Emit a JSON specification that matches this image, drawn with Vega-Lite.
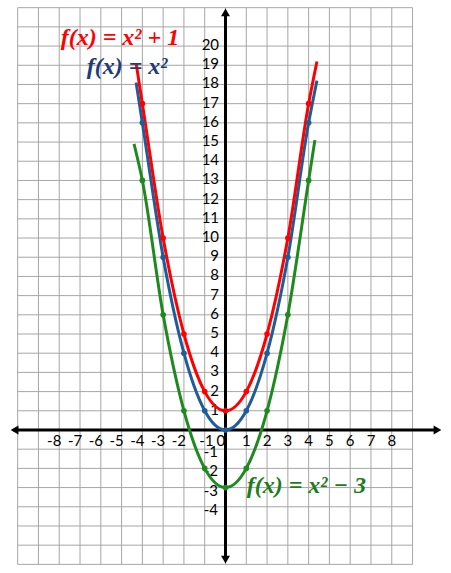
{
  "$schema": "https://vega.github.io/schema/vega-lite/v6.json",
  "width": 451,
  "height": 573,
  "padding": 0,
  "autosize": "none",
  "background": "white",
  "config": {"view": {"stroke": null}},
  "datasets": {
    "one": [{}],
    "gx": [{"v":-10},{"v":-9},{"v":-8},{"v":-7},{"v":-6},{"v":-5},{"v":-4},{"v":-3},{"v":-2},{"v":-1},{"v":0},{"v":1},{"v":2},{"v":3},{"v":4},{"v":5},{"v":6},{"v":7},{"v":8},{"v":9}],
    "gy": [{"v":-7},{"v":-6},{"v":-5},{"v":-4},{"v":-3},{"v":-2},{"v":-1},{"v":0},{"v":1},{"v":2},{"v":3},{"v":4},{"v":5},{"v":6},{"v":7},{"v":8},{"v":9},{"v":10},{"v":11},{"v":12},{"v":13},{"v":14},{"v":15},{"v":16},{"v":17},{"v":18},{"v":19},{"v":20},{"v":21},{"v":22}],
    "xneg": [{"v":-8,"t":"-8"},{"v":-7,"t":"-7"},{"v":-6,"t":"-6"},{"v":-5,"t":"-5"},{"v":-4,"t":"-4"},{"v":-3,"t":"-3"},{"v":-2,"t":"-2"}],
    "xpos": [{"v":1,"t":"1"},{"v":2,"t":"2"},{"v":3,"t":"3"},{"v":4,"t":"4"},{"v":5,"t":"5"},{"v":6,"t":"6"},{"v":7,"t":"7"},{"v":8,"t":"8"}],
    "ypos": [{"v":1,"t":"1"},{"v":2,"t":"2"},{"v":3,"t":"3"},{"v":4,"t":"4"},{"v":5,"t":"5"},{"v":6,"t":"6"},{"v":7,"t":"7"},{"v":8,"t":"8"},{"v":9,"t":"9"},{"v":10,"t":"10"},{"v":11,"t":"11"},{"v":12,"t":"12"},{"v":13,"t":"13"},{"v":14,"t":"14"},{"v":15,"t":"15"},{"v":16,"t":"16"},{"v":17,"t":"17"},{"v":18,"t":"18"},{"v":19,"t":"19"},{"v":20,"t":"20"}],
    "yneg": [{"v":-1,"t":"-1"},{"v":-2,"t":"-2"},{"v":-3,"t":"-3"},{"v":-4,"t":"-4"}],
    "curves": [
      {"s":"g","x":-4.4,"y":14.9,"pt":false},{"s":"g","x":-4,"y":13,"pt":true},{"s":"g","x":-3,"y":6,"pt":true},{"s":"g","x":-2,"y":1,"pt":true},{"s":"g","x":-1,"y":-2,"pt":true},{"s":"g","x":0,"y":-3,"pt":true},{"s":"g","x":1,"y":-2,"pt":true},{"s":"g","x":2,"y":1,"pt":true},{"s":"g","x":3,"y":6,"pt":true},{"s":"g","x":4,"y":13,"pt":true},{"s":"g","x":4.3,"y":15.1,"pt":false},
      {"s":"b","x":-4.3,"y":18.1,"pt":false},{"s":"b","x":-4,"y":16,"pt":true},{"s":"b","x":-3,"y":9,"pt":true},{"s":"b","x":-2,"y":4,"pt":true},{"s":"b","x":-1,"y":1,"pt":true},{"s":"b","x":0,"y":0,"pt":true},{"s":"b","x":1,"y":1,"pt":true},{"s":"b","x":2,"y":4,"pt":true},{"s":"b","x":3,"y":9,"pt":true},{"s":"b","x":4,"y":16,"pt":true},{"s":"b","x":4.4,"y":18.2,"pt":false},
      {"s":"r","x":-4.3,"y":19.1,"pt":false},{"s":"r","x":-4,"y":17,"pt":true},{"s":"r","x":-3,"y":10,"pt":true},{"s":"r","x":-2,"y":5,"pt":true},{"s":"r","x":-1,"y":2,"pt":true},{"s":"r","x":0,"y":1,"pt":true},{"s":"r","x":1,"y":2,"pt":true},{"s":"r","x":2,"y":5,"pt":true},{"s":"r","x":3,"y":10,"pt":true},{"s":"r","x":4,"y":17,"pt":true},{"s":"r","x":4.4,"y":19.2,"pt":false}
    ]
  },
  "layer": [
    {
      "data": {"name": "gx"},
      "mark": {"type": "rule", "color": "#a6a6a6", "strokeWidth": 1},
      "encoding": {
        "x": {"field": "v", "type": "quantitative", "scale": {"domain": [-10.85, 10.85], "nice": false, "zero": false}, "axis": null},
        "y": {"datum": -7, "scale": {"domain": [-7.45, 22.4], "nice": false, "zero": false}, "axis": null},
        "y2": {"datum": 22}
      }
    },
    {
      "data": {"name": "gy"},
      "mark": {"type": "rule", "color": "#a6a6a6", "strokeWidth": 1},
      "encoding": {
        "y": {"field": "v", "type": "quantitative"},
        "x": {"datum": -10},
        "x2": {"datum": 9}
      }
    },
    {
      "data": {"name": "one"},
      "mark": {"type": "rule", "color": "black", "strokeWidth": 3},
      "encoding": {"x": {"datum": -10.2}, "x2": {"datum": 10.2}, "y": {"datum": 0}}
    },
    {
      "data": {"name": "one"},
      "mark": {"type": "rule", "color": "black", "strokeWidth": 3},
      "encoding": {"x": {"datum": 0}, "y": {"datum": -6.75}, "y2": {"datum": 21.75}}
    },
    {
      "data": {"name": "one"},
      "mark": {"type": "point", "shape": "triangle-left", "filled": true, "color": "black", "opacity": 1, "size": 80},
      "encoding": {"x": {"datum": -10.15}, "y": {"datum": 0}}
    },
    {
      "data": {"name": "one"},
      "mark": {"type": "point", "shape": "triangle-right", "filled": true, "color": "black", "opacity": 1, "size": 80},
      "encoding": {"x": {"datum": 10.2}, "y": {"datum": 0}}
    },
    {
      "data": {"name": "one"},
      "mark": {"type": "point", "shape": "triangle-up", "filled": true, "color": "black", "opacity": 1, "size": 80},
      "encoding": {"x": {"datum": 0}, "y": {"datum": 21.75}}
    },
    {
      "data": {"name": "one"},
      "mark": {"type": "point", "shape": "triangle-down", "filled": true, "color": "black", "opacity": 1, "size": 80},
      "encoding": {"x": {"datum": 0}, "y": {"datum": -6.75}}
    },
    {
      "data": {"name": "xneg"},
      "mark": {"type": "text", "font": "Lato", "fontSize": 15, "color": "black", "align": "center", "baseline": "middle", "dx": -5},
      "encoding": {"x": {"field": "v", "type": "quantitative"}, "y": {"datum": -0.55}, "text": {"field": "t", "type": "nominal"}}
    },
    {
      "data": {"name": "xpos"},
      "mark": {"type": "text", "font": "Lato", "fontSize": 15, "color": "black", "align": "center", "baseline": "middle"},
      "encoding": {"x": {"field": "v", "type": "quantitative"}, "y": {"datum": -0.55}, "text": {"field": "t", "type": "nominal"}}
    },
    {
      "data": {"name": "one"},
      "mark": {"type": "text", "font": "Lato", "fontSize": 15, "color": "black", "align": "right", "baseline": "middle", "text": "-1", "dx": -1.5},
      "encoding": {"x": {"datum": -0.5}, "y": {"datum": -0.55}}
    },
    {
      "data": {"name": "one"},
      "mark": {"type": "text", "font": "Lato", "fontSize": 15, "color": "black", "align": "left", "baseline": "middle", "text": "0", "dx": 1.5},
      "encoding": {"x": {"datum": -0.5}, "y": {"datum": -0.55}}
    },
    {
      "data": {"name": "ypos"},
      "mark": {"type": "text", "font": "Lato", "fontSize": 15, "color": "black", "align": "right", "baseline": "middle", "dy": -1},
      "encoding": {"y": {"field": "v", "type": "quantitative"}, "x": {"datum": -0.31}, "text": {"field": "t", "type": "nominal"}}
    },
    {
      "data": {"name": "yneg"},
      "mark": {"type": "text", "font": "Lato", "fontSize": 15, "color": "black", "align": "right", "baseline": "middle", "dy": 3},
      "encoding": {"y": {"field": "v", "type": "quantitative"}, "x": {"datum": -0.36}, "text": {"field": "t", "type": "nominal"}}
    },
    {
      "data": {"name": "curves"},
      "mark": {"type": "line", "interpolate": "monotone", "strokeWidth": 3},
      "encoding": {
        "x": {"field": "x", "type": "quantitative"},
        "y": {"field": "y", "type": "quantitative"},
        "color": {"field": "s", "type": "nominal", "scale": {"domain": ["g", "b", "r"], "range": ["#1e8a1e", "#1f5c99", "#ff0000"]}, "legend": null},
        "order": {"field": "x", "type": "quantitative"}
      }
    },
    {
      "data": {"name": "curves"},
      "transform": [{"filter": "datum.pt"}],
      "mark": {"type": "point", "filled": true, "opacity": 1},
      "encoding": {
        "x": {"field": "x", "type": "quantitative"},
        "y": {"field": "y", "type": "quantitative"},
        "color": {"field": "s", "type": "nominal", "legend": null},
        "size": {"field": "s", "type": "nominal", "scale": {"domain": ["g", "b", "r"], "range": [32, 32, 60]}, "legend": null}
      }
    },
    {
      "data": {"name": "one"},
      "mark": {"type": "text", "font": "'Liberation Serif', 'Times New Roman', serif", "fontSize": 24, "fontWeight": "bold", "fontStyle": "italic", "color": "#ff0000", "align": "left", "baseline": "middle", "text": "f(x) = x² + 1"},
      "encoding": {"x": {"datum": -7.93}, "y": {"datum": 20.4}}
    },
    {
      "data": {"name": "one"},
      "mark": {"type": "text", "font": "'Liberation Serif', 'Times New Roman', serif", "fontSize": 24, "fontWeight": "bold", "fontStyle": "italic", "color": "#1f3b7a", "align": "left", "baseline": "middle", "text": "f(x) = x²"},
      "encoding": {"x": {"datum": -6.68}, "y": {"datum": 18.9}}
    },
    {
      "data": {"name": "one"},
      "mark": {"type": "text", "font": "'Liberation Serif', 'Times New Roman', serif", "fontSize": 24, "fontWeight": "bold", "fontStyle": "italic", "color": "#1e7b1e", "align": "left", "baseline": "middle", "text": "f(x) = x² − 3"},
      "encoding": {"x": {"datum": 1.02}, "y": {"datum": -2.92}}
    }
  ]
}
